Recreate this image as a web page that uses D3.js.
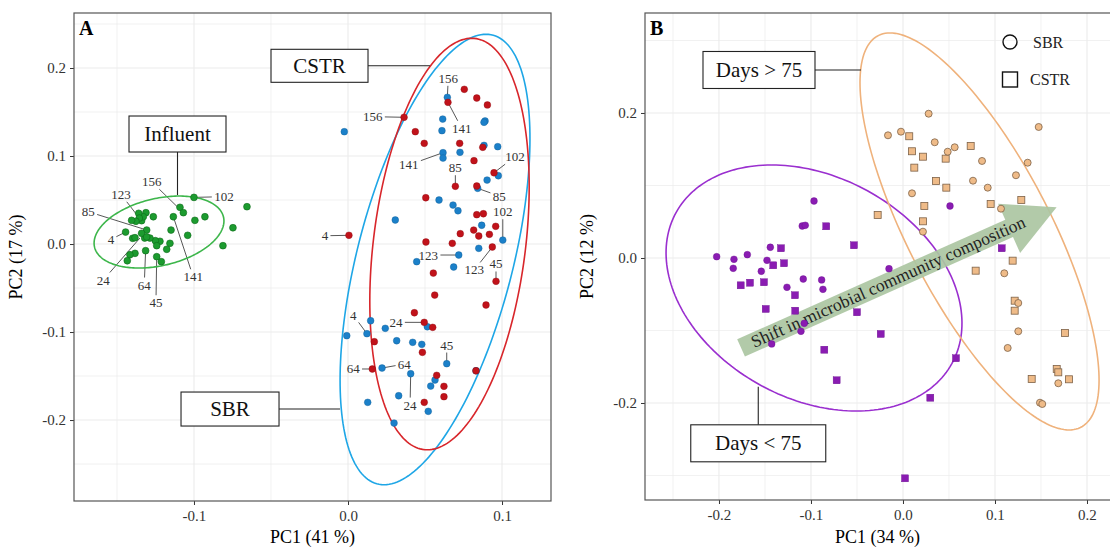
<!DOCTYPE html>
<html><head><meta charset="utf-8">
<script src="https://cdn.jsdelivr.net/npm/d3@7"></script>
<style>body{margin:0;background:#fff}text{font-family:"Liberation Serif","Times New Roman",serif}</style>
</head><body><svg id="c" width="1110" height="550"></svg>
<script>
// ---------- Panel A data (PC1, PC2) ----------
const influentPts = [[-0.100,0.053],[-0.0656,0.0424],[-0.0747,0.0185],[-0.0812,-0.0019],[-0.0929,0.031],[-0.0994,0.0269],[-0.1041,0.0099],[-0.1091,0.0417],[-0.1069,0.0356],[-0.1134,0.031],[-0.1149,0.0159],[-0.1156,0.0008],[-0.1177,-0.006],[-0.1212,-0.0201],[-0.1242,-0.0144],[-0.1221,0.0031],[-0.1251,0.0038],[-0.1242,-0.0019],[-0.1286,0.0068],[-0.132,0.0068],[-0.1264,0.031],[-0.1312,0.0356],[-0.1307,0.0159],[-0.1314,-0.0076],[-0.134,0.0122],[-0.134,0.0265],[-0.1329,0.031],[-0.1359,0.0349],[-0.1355,0.0295],[-0.1377,0.0258],[-0.1405,0.0269],[-0.1398,0.0065],[-0.1383,0.0072],[-0.1444,0.0136],[-0.1383,-0.0106],[-0.1416,-0.0122],[-0.1433,-0.019],[-0.1307,0.008]];
const sbrPts = [[0.0645,0.1667],[0.0615,0.142],[0.061,0.1288],[0.089,0.1398],[0.0883,0.1383],[-0.0024,0.1276],[0.0617,0.1038],[0.0617,0.0977],[0.0727,0.1042],[0.0883,0.1121],[0.0972,0.1106],[0.0976,0.0776],[0.0903,0.0727],[0.0842,0.0633],[0.0591,0.05],[0.0682,0.0443],[0.0714,0.0378],[0.0307,0.0273],[0.0868,0.0213],[0.1005,0.0045],[0.0849,-0.0049],[0.0719,-0.0125],[0.0446,-0.0201],[0.0686,-0.0261],[0.0147,-0.0872],[0.0123,-0.1019],[-0.0008,-0.1042],[0.0242,-0.0958],[0.0515,-0.094],[0.0316,-0.1099],[0.042,-0.1117],[0.0479,-0.114],[0.0641,-0.136],[0.0221,-0.1409],[0.0407,-0.1474],[0.0565,-0.1545],[0.0537,-0.1614],[0.0329,-0.1724],[0.0128,-0.1799],[0.0521,-0.1901],[0.0299,-0.2034],[0.0831,-0.144]];
const cstrPts = [[0.0755,0.1758],[0.0836,0.1659],[0.0905,0.158],[0.0649,0.161],[0.0364,0.144],[0.0437,0.1276],[0.0495,0.1144],[0.0725,0.1144],[0.0875,0.1099],[0.0818,0.0947],[0.0948,0.081],[0.0697,0.0656],[0.0836,0.0659],[0.0505,0.0526],[0.0836,0.0333],[0.0879,0.0344],[0.0959,0.0201],[0.0729,0.0117],[0.0816,0.0159],[0.0849,0.0091],[0.0918,0.011],[0.0677,0.0008],[0.0506,0.0023],[0.0937,-0.0034],[0.0554,-0.033],[0.0961,-0.0424],[0.0563,-0.058],[0.0006,0.0099],[0.0896,-0.0693],[0.0431,-0.0781],[0.0495,-0.089],[0.055,-0.0947],[0.0171,-0.111],[0.0483,-0.1231],[0.0158,-0.142],[0.0576,-0.1492],[0.0623,-0.1617],[0.0623,-0.1735],[0.0831,-0.144],[0.0495,-0.1799]];
// sample-day labels: [text, point x, point y, label x, label y]
const labelsA = [
 ["156",-0.1069,0.0356,-0.1275,0.0708],["123",-0.1355,0.0295,-0.1474,0.0565],["85",-0.1307,0.0159,-0.1686,0.0367],
 ["4",-0.1444,0.0136,-0.1539,0.0053],["24",-0.1351,0.0068,-0.1589,-0.0409],["64",-0.1314,-0.0076,-0.1323,-0.0466],
 ["45",-0.1242,-0.0144,-0.1247,-0.0667],["141",-0.1134,0.031,-0.1005,-0.0372],["102",-0.100,0.053,-0.0805,0.0538],
 ["156",0.0645,0.1667,0.0651,0.1883],["141",0.0649,0.161,0.0738,0.1315],["156",0.0364,0.144,0.016,0.1447],
 ["141",0.0617,0.1038,0.0394,0.0898],["85",0.0697,0.0656,0.0697,0.0867],["102",0.0948,0.081,0.1084,0.0992],
 ["85",0.0842,0.0633,0.0982,0.0545],["102",0.1005,0.0045,0.1005,0.0367],["123",0.0719,-0.0125,0.0521,-0.0125],
 ["123",0.0937,-0.0034,0.082,-0.0295],["45",0.0961,-0.0424,0.0961,-0.0227],["4",0.0006,0.0099,-0.0149,0.0094],
 ["4",0.0123,-0.1019,0.0034,-0.0807],["24",0.0495,-0.089,0.0312,-0.089],["64",0.0158,-0.142,0.0034,-0.142],
 ["64",0.0221,-0.1409,0.0366,-0.1364],["45",0.0641,-0.136,0.0641,-0.1148],["24",0.0407,-0.1474,0.0403,-0.183]
];
// ellipses: [centre x, centre y, top-point dx, top-point dy, horizontal half-chord]
const ellipseInfluent = [-0.1227,0.0136,0.0130,0.0409,0.0401];
const ellipseCstr = [0.0659,0.0,0.0144,0.2338,0.0497];
const ellipseSbr = [0.0565,-0.0176,0.0331,0.2559,0.0520];
// callouts: [text, box x, box y, connector end x, connector end y]
const calloutsA = [["Influent",-0.1107,0.125,-0.1107,0.0557],["CSTR",-0.0185,0.2025,0.0532,0.2025],["SBR",-0.0766,-0.1875,-0.0052,-0.1875]];

// ---------- Panel B data ----------
const earlySbr = [[-0.0967,0.0786],[-0.1095,0.0441],[-0.1062,0.0451],[-0.1442,0.0148],[-0.2025,0.0018],[-0.1837,-0.0018],[-0.1692,0.0046],[-0.1845,-0.0142],[-0.1478,-0.0032],[-0.154,-0.0183],[-0.1261,-0.0404],[-0.1084,-0.029],[-0.0884,-0.0303],[-0.087,-0.0432],[-0.0152,-0.0148],[-0.1073,-0.0901],[-0.1109,-0.1011],[-0.1427,-0.1186],[0.0511,0.0717]];
const earlyCstr = [[-0.1326,0.0134],[-0.141,-0.0101],[-0.1293,-0.0073],[-0.0834,0.0437],[-0.0533,0.0175],[-0.1764,-0.0377],[-0.1663,-0.0341],[-0.1511,-0.0335],[-0.1174,-0.0514],[-0.1492,-0.0703],[-0.1171,-0.0727],[-0.05,-0.0749],[-0.0242,-0.1048],[-0.0855,-0.1265],[-0.0721,-0.1687],[0.1073,0.0134],[0.0576,-0.1383],[0.0297,-0.1927],[0.0022,-0.3039]];
const lateSbr = [[0.0279,0.199],[-0.0163,0.1692],[-0.0022,0.1742],[0.0345,0.1596],[0.0486,0.1466],[0.0562,0.1527],[0.0859,0.1338],[0.1475,0.1807],[0.1355,0.1314],[0.1228,0.1141],[0.0761,0.1066],[0.0921,0.097],[0.0098,0.0892],[0.1065,0.068],[0.0217,0.0363],[0.1101,-0.0211],[0.1253,-0.0621],[0.1253,-0.1011],[0.1138,-0.1241],[0.1688,-0.1728],[0.1489,-0.1996],[0.1514,-0.2014]];
const lateCstr = [[0.0068,0.1679],[0.0098,0.1472],[0.0217,0.1397],[0.0464,0.137],[0.0736,0.1545],[0.0123,0.1246],[0.0359,0.1062],[0.0471,0.097],[0.0232,0.0717],[0.0953,0.0745],[0.1286,0.08],[-0.0275,0.0593],[0.0217,0.0506],[0.1192,-0.0037],[0.079,-0.0175],[0.1214,-0.0589],[0.1214,-0.0727],[0.1761,-0.1034],[0.1399,-0.1669],[0.1671,-0.1531],[0.1688,-0.1577],[0.1804,-0.1673]];
const ellipseEarly = [-0.0967,-0.0414,-0.046,0.1697,0.1541];
const ellipseLate = [0.0832,0.0366,-0.0973,0.2738,0.0861];
const calloutsB = [["Days > 75",-0.1565,0.2593,-0.0457,0.2593],["Days < 75",-0.1573,-0.2556,-0.1573,-0.1775]];
const shiftArrow = [-0.176,-0.124,0.167,0.070];
const arrowText = "Shift in microbial community composition";
const legendItems = ["SBR","CSTR"];

// tick values
const ticksAx = [-0.1,0.0,0.1], ticksAy = [-0.2,-0.1,0.0,0.1,0.2];
const gridAx = [-0.15,-0.1,-0.05,0,0.05,0.1], gridAy = [-0.25,-0.2,-0.15,-0.1,-0.05,0,0.05,0.1,0.15,0.2,0.25];
const ticksBx = [-0.2,-0.1,0.0,0.1,0.2], ticksBy = [-0.2,0.0,0.2];
const gridBx = [-0.25,-0.2,-0.15,-0.1,-0.05,0,0.05,0.1,0.15,0.2], gridBy = [-0.3,-0.2,-0.1,0,0.1,0.2,0.3];

const svg = d3.select("#c");
const fmt = d => d.toFixed(1);

function panel(g, xs, ys, gx, gy, tx, ty, xTitle, yTitle, letter, id){
  const [x0,x1] = xs.range(), [y1,y0] = ys.range();
  g.append("clipPath").attr("id",id).append("rect").attr("x",x0).attr("y",y0).attr("width",x1-x0).attr("height",y1-y0);
  const grid = g.append("g");
  grid.selectAll(".gx").data(gx).join("line").attr("x1",d=>xs(d)).attr("x2",d=>xs(d)).attr("y1",y0).attr("y2",y1)
    .attr("stroke","#ebebeb").attr("stroke-width",d=>tx.some(t=>Math.abs(t-d)<1e-9)?1.1:0.7);
  grid.selectAll(".gy").data(gy).join("line").attr("y1",d=>ys(d)).attr("y2",d=>ys(d)).attr("x1",x0).attr("x2",x1)
    .attr("stroke","#ebebeb").attr("stroke-width",d=>ty.some(t=>Math.abs(t-d)<1e-9)?1.1:0.7);
  const ax = g.append("g").attr("transform",`translate(0,${y1})`).call(d3.axisBottom(xs).tickValues(tx).tickFormat(fmt).tickSize(4).tickPadding(5));
  const ay = g.append("g").attr("transform",`translate(${x0},0)`).call(d3.axisLeft(ys).tickValues(ty).tickFormat(fmt).tickSize(4).tickPadding(4));
  [ax,ay].forEach(a=>{a.select(".domain").remove();a.selectAll("line").attr("stroke","#333");
    a.selectAll("text").attr("fill","#333").style("font-size","15px").style("font-family","'Liberation Serif',serif");});
  g.append("text").attr("x",(x0+Math.min(x1,1110))/2).attr("y",543).attr("text-anchor","middle").style("font-size","18px").text(xTitle);
  g.append("text").attr("transform",`translate(${x0-52},${(y0+y1)/2}) rotate(-90)`).attr("text-anchor","middle").style("font-size","18px").text(yTitle);
  const content = g.append("g").attr("clip-path",`url(#${id})`);
  g.append("rect").attr("x",x0).attr("y",y0).attr("width",x1-x0).attr("height",y1-y0).attr("fill","none").attr("stroke","#555").attr("stroke-width",1.2);
  g.append("text").attr("x",x0+5).attr("y",y0+22).style("font-size","20px").style("font-weight","bold").text(letter);
  return content;
}

function ellipse(g, e, xs, ys, color){
  const pts = d3.range(0,201).map(i=>{const t=i/200*2*Math.PI;return [e[0]+e[2]*Math.cos(t)+e[4]*Math.sin(t), e[1]+e[3]*Math.cos(t)];});
  g.append("path").attr("d",d3.line().x(d=>xs(d[0])).y(d=>ys(d[1]))(pts)).attr("fill","none").attr("stroke",color).attr("stroke-width",1.6);
}

function callout(g, c, xs, ys, w, h){
  const bx=xs(c[1]), by=ys(c[2]), ex=xs(c[3]), ey=ys(c[4]);
  let sx=bx, sy=by;
  if (Math.abs(ey-by) < 3) sx = bx + (ex>bx? w/2 : -w/2); else sy = by + (ey>by? h/2 : -h/2);
  g.append("line").attr("x1",sx).attr("y1",sy).attr("x2",ex).attr("y2",ey).attr("stroke","#222").attr("stroke-width",1.1);
  g.append("rect").attr("x",bx-w/2).attr("y",by-h/2).attr("width",w).attr("height",h).attr("fill","#fff").attr("stroke","#222").attr("stroke-width",1.1);
  g.append("text").attr("x",bx).attr("y",by+7).attr("text-anchor","middle").style("font-size","21px").attr("fill","#111").text(c[0]);
}

// ---------- Panel A ----------
const xA = d3.scaleLinear().domain([-0.1779,0.1318]).range([74,551]);
const yA = d3.scaleLinear().domain([-0.292,0.2625]).range([501,13]);
const gA = svg.append("g");
const cA = panel(gA, xA, yA, gridAx, gridAy, ticksAx, ticksAy, "PC1 (41 %)", "PC2 (17 %)", "A", "clipA");

labelsA.forEach(l=>{
  const px=xA(l[1]), py=yA(l[2]), lx=xA(l[3]), ly=yA(l[4]);
  const hw = l[0].length*3.4+2, hh = 7.5;
  const dx=px-lx, dy=py-ly;
  const t = Math.min(dx!==0?hw/Math.abs(dx):Infinity, dy!==0?hh/Math.abs(dy):Infinity);
  if (t<1) cA.append("line").attr("x1",lx+dx*t).attr("y1",ly+dy*t).attr("x2",px).attr("y2",py).attr("stroke","#444").attr("stroke-width",0.9);
  cA.append("text").attr("x",lx).attr("y",ly+4.5).attr("text-anchor","middle").style("font-size","13px").attr("fill","#333").text(l[0]);
});
ellipse(cA, ellipseInfluent, xA, yA, "#3db64b");
ellipse(cA, ellipseSbr, xA, yA, "#1ea6e6");
ellipse(cA, ellipseCstr, xA, yA, "#d8262b");
cA.selectAll(".inf").data(influentPts).join("circle").attr("cx",d=>xA(d[0])).attr("cy",d=>yA(d[1])).attr("r",3.4).attr("fill","#1c9b2f").attr("stroke","#0e6a1a").attr("stroke-width",0.6);
cA.selectAll(".sbr").data(sbrPts).join("circle").attr("cx",d=>xA(d[0])).attr("cy",d=>yA(d[1])).attr("r",3.4).attr("fill","#1b80c9").attr("stroke","#125e96").attr("stroke-width",0.4);
cA.selectAll(".cstr").data(cstrPts).join("circle").attr("cx",d=>xA(d[0])).attr("cy",d=>yA(d[1])).attr("r",3.4).attr("fill","#c1121a").attr("stroke","#8a0c12").attr("stroke-width",0.4);
callout(cA, calloutsA[0], xA, yA, 97, 36);
callout(cA, calloutsA[1], xA, yA, 97, 33);
callout(cA, calloutsA[2], xA, yA, 98, 34);

// ---------- Panel B ----------
const xB = d3.scaleLinear().domain([-0.2804,0.2337]).range([645,1118]);
const yB = d3.scaleLinear().domain([-0.3338,0.3379]).range([500,13]);
const gB = svg.append("g");
const cB = panel(gB, xB, yB, gridBx, gridBy, ticksBx, ticksBy, "PC1 (34 %)", "PC2 (12 %)", "B", "clipB");

ellipse(cB, ellipseEarly, xB, yB, "#9a2fcf");
ellipse(cB, ellipseLate, xB, yB, "#efb27c");

(function(){
  const sx=xB(shiftArrow[0]), sy=yB(shiftArrow[1]), ex=xB(shiftArrow[2]), ey=yB(shiftArrow[3]);
  const L=Math.hypot(ex-sx,ey-sy), ang=Math.atan2(ey-sy,ex-sx)*180/Math.PI;
  const sw=9.5, hw=27, hl=52;
  const ag = cB.append("g").attr("transform",`translate(${sx},${sy}) rotate(${ang})`);
  ag.append("path").attr("d",`M0,${-sw}L${L-hl},${-sw}L${L-hl},${-hw}L${L},0L${L-hl},${hw}L${L-hl},${sw}L0,${sw}Z`)
    .attr("fill","#abc6a2").attr("opacity",0.92);
  ag.append("text").attr("x",12).attr("y",5.5).style("font-size","17.5px").attr("fill","#222").text(arrowText);
})();

const sq = 7;
cB.selectAll(".ec").data(earlyCstr).join("rect").attr("x",d=>xB(d[0])-sq/2).attr("y",d=>yB(d[1])-sq/2).attr("width",sq).attr("height",sq).attr("fill","#8a1cb2").attr("stroke","#6a1090").attr("stroke-width",0.4);
cB.selectAll(".es").data(earlySbr).join("circle").attr("cx",d=>xB(d[0])).attr("cy",d=>yB(d[1])).attr("r",3.4).attr("fill","#8a1cb2").attr("stroke","#6a1090").attr("stroke-width",0.4);
cB.selectAll(".lc").data(lateCstr).join("rect").attr("x",d=>xB(d[0])-sq/2).attr("y",d=>yB(d[1])-sq/2).attr("width",sq).attr("height",sq).attr("fill","#efbb88").attr("stroke","#7d6248").attr("stroke-width",0.8);
cB.selectAll(".ls").data(lateSbr).join("circle").attr("cx",d=>xB(d[0])).attr("cy",d=>yB(d[1])).attr("r",3.5).attr("fill","#efbb88").attr("stroke","#7d6248").attr("stroke-width",0.8);

callout(cB, calloutsB[0], xB, yB, 112, 37);
callout(cB, calloutsB[1], xB, yB, 135, 37);

const lg = cB.append("g").attr("transform",`translate(${xB.range()[1]-108},42)`);
lg.append("circle").attr("cx",0).attr("cy",0).attr("r",7).attr("fill","none").attr("stroke","#111").attr("stroke-width",1.4);
lg.append("rect").attr("x",-7.5).attr("y",30).attr("width",15).attr("height",15).attr("fill","none").attr("stroke","#111").attr("stroke-width",1.4);
lg.selectAll(".lt").data(legendItems).join("text").attr("x",d=>d==="SBR"?23:20).attr("y",(d,i)=>i*37+5.5).style("font-size","16px").attr("fill","#222").text(d=>d);
</script></body></html>
